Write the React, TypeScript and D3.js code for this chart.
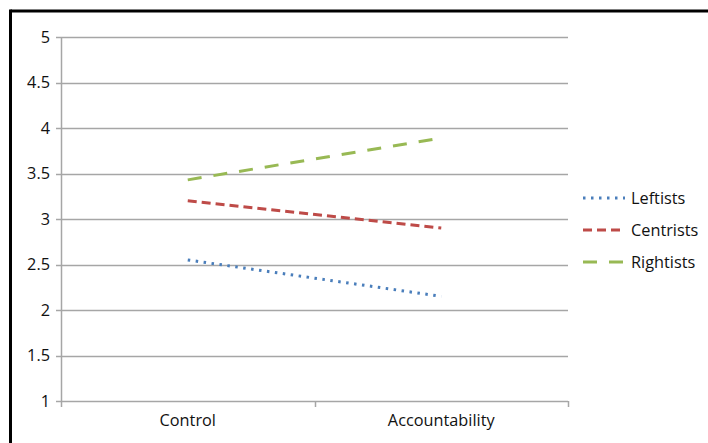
import React from "react";
import * as d3 from "d3";

const categories = ["Control", "Accountability"];
const seriesNames = ["Leftists", "Centrists", "Rightists"];
const leftists = [2.55, 2.15];
const centrists = [3.2, 2.9];
const rightists = [3.43, 3.89];
const yTicks = [1, 1.5, 2, 2.5, 3, 3.5, 4, 4.5, 5];

const colors = ["#4A7EBB", "#BE4B48", "#98B954"];
const dashes = ["2.5 5.5", "9 5", "14 12"];
const caps: ("butt" | "round")[] = ["butt", "butt", "butt"];

export default function App() {
  const W = 708, H = 443;
  const x0 = 61, x1 = 568, yTop = 37, yBot = 401;
  const y = d3.scaleLinear().domain([1, 5]).range([yBot, yTop]);
  const x = d3.scaleBand().domain(categories).range([x0, x1]);
  const data = [leftists, centrists, rightists];
  const line = d3.line<number>()
    .x((_, i) => (x(categories[i]) as number) + x.bandwidth() / 2)
    .y((v) => y(v));
  const font = "'Open Sans', 'Liberation Sans', Arial, sans-serif";
  const fs = 16.3;
  const xTickPos = [x0, ...categories.map((c) => (x(c) as number) + x.bandwidth())];
  return (
    <svg width={W} height={H} style={{ position: "absolute", left: 0, top: 0 }} fontFamily={font}>
      <rect x={0} y={0} width={W} height={H} fill="#fff" />
      <line x1={10.5} y1={11} x2={W + 5} y2={11} stroke="#000" strokeWidth={3} />
      <line x1={10.5} y1={9.5} x2={10.5} y2={H + 5} stroke="#000" strokeWidth={3} />
      {yTicks.map((t) => (
        <g key={t}>
          <line x1={x0 - 5} x2={x1} y1={Math.round(y(t)) + 0.5} y2={Math.round(y(t)) + 0.5} stroke="#A6A6A6" strokeWidth={1.5} />
          <text x={50} y={y(t)} dy="0.35em" textAnchor="end" fontSize={fs} fill="#111">{t}</text>
        </g>
      ))}
      <line x1={x0 + 0.5} x2={x0 + 0.5} y1={yTop} y2={yBot} stroke="#A6A6A6" strokeWidth={1.5} />
      {xTickPos.map((p, i) => (
        <line key={i} x1={Math.round(p) + 0.5} x2={Math.round(p) + 0.5} y1={yBot} y2={yBot + 6} stroke="#A6A6A6" strokeWidth={1.5} />
      ))}
      {categories.map((c) => (
        <text key={c} x={(x(c) as number) + x.bandwidth() / 2} y={420} dy="0.35em" textAnchor="middle" fontSize={fs} fill="#111">{c}</text>
      ))}
      {data.map((d, i) => (
        <path key={i} d={line(d) as string} fill="none" stroke={colors[i]} strokeWidth={3} strokeDasharray={dashes[i]} strokeLinecap={caps[i]} />
      ))}
      {seriesNames.map((n, i) => (
        <g key={n} transform={`translate(0, ${198 + i * 32})`}>
          <line x1={583} x2={625} y1={0} y2={0} stroke={colors[i]} strokeWidth={3} strokeDasharray={dashes[i]} strokeLinecap={caps[i]} />
          <text x={631} y={0} dy="0.35em" fontSize={fs} fill="#111">{n}</text>
        </g>
      ))}
    </svg>
  );
}
